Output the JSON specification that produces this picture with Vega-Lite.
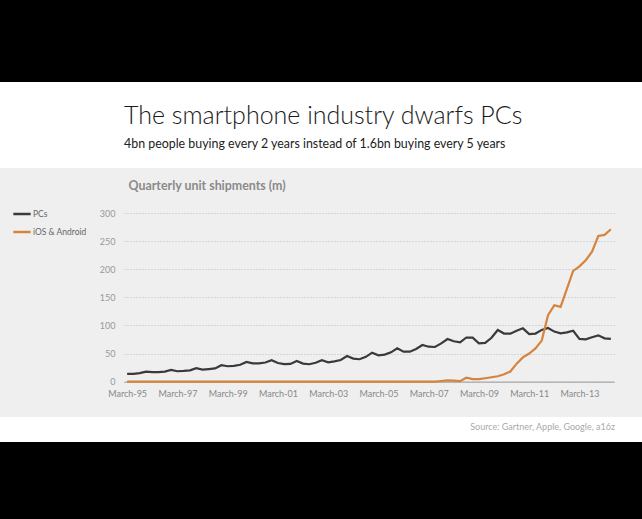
{
  "$schema": "https://vega.github.io/schema/vega-lite/v6.json",
  "background": "white",
  "padding": 0,
  "bounds": "flush",
  "spacing": 0,
  "config": {"view": {"stroke": null}, "font": "Lato"},
  "vconcat": [
    {
      "width": 642,
      "height": 82,
      "view": {"fill": "black", "stroke": null},
      "data": {"values": [{}]},
      "mark": {"type": "text", "text": ""},
      "title": {
        "text": "The smartphone industry dwarfs PCs",
        "subtitle": "4bn people buying every 2 years instead of 1.6bn buying every 5 years",
        "orient": "bottom",
        "anchor": "start",
        "frame": "group",
        "dx": 124,
        "offset": 22,
        "font": "Lato",
        "fontSize": 25,
        "fontWeight": 300,
        "color": "#1a1a1a",
        "subtitleFont": "Lato",
        "subtitleFontSize": 12.4,
        "subtitleColor": "#222",
        "subtitlePadding": 9
      }
    },
    {
      "width": 642,
      "height": 86,
      "data": {"values": [{}]},
      "mark": {"type": "text", "text": ""}
    },
    {
      "width": 642,
      "height": 249,
      "view": {"fill": "#efefef", "stroke": null},
      "title": {
        "text": "Source: Gartner, Apple, Google, a16z",
        "orient": "bottom",
        "anchor": "end",
        "frame": "group",
        "dx": -27,
        "offset": 6,
        "fontSize": 9,
        "fontWeight": "normal",
        "color": "#aaa"
      },
      "data": {
        "values": [
          {"q": "March-95", "s": "PCs", "v": 13.7},
          {"q": "June-95", "s": "PCs", "v": 13.7},
          {"q": "September-95", "s": "PCs", "v": 15},
          {"q": "December-95", "s": "PCs", "v": 17.8},
          {"q": "March-96", "s": "PCs", "v": 16.7},
          {"q": "June-96", "s": "PCs", "v": 17},
          {"q": "September-96", "s": "PCs", "v": 17.8},
          {"q": "December-96", "s": "PCs", "v": 20.8},
          {"q": "March-97", "s": "PCs", "v": 18.4},
          {"q": "June-97", "s": "PCs", "v": 19},
          {"q": "September-97", "s": "PCs", "v": 20},
          {"q": "December-97", "s": "PCs", "v": 23.8},
          {"q": "March-98", "s": "PCs", "v": 21.3},
          {"q": "June-98", "s": "PCs", "v": 22.3},
          {"q": "September-98", "s": "PCs", "v": 23.5},
          {"q": "December-98", "s": "PCs", "v": 29.1},
          {"q": "March-99", "s": "PCs", "v": 27.3},
          {"q": "June-99", "s": "PCs", "v": 28},
          {"q": "September-99", "s": "PCs", "v": 30},
          {"q": "December-99", "s": "PCs", "v": 35},
          {"q": "March-00", "s": "PCs", "v": 32.5},
          {"q": "June-00", "s": "PCs", "v": 32.6},
          {"q": "September-00", "s": "PCs", "v": 34},
          {"q": "December-00", "s": "PCs", "v": 38},
          {"q": "March-01", "s": "PCs", "v": 33},
          {"q": "June-01", "s": "PCs", "v": 31},
          {"q": "September-01", "s": "PCs", "v": 31.5},
          {"q": "December-01", "s": "PCs", "v": 36.7},
          {"q": "March-02", "s": "PCs", "v": 32},
          {"q": "June-02", "s": "PCs", "v": 30.9},
          {"q": "September-02", "s": "PCs", "v": 33.5},
          {"q": "December-02", "s": "PCs", "v": 38},
          {"q": "March-03", "s": "PCs", "v": 34.4},
          {"q": "June-03", "s": "PCs", "v": 36},
          {"q": "September-03", "s": "PCs", "v": 38.5},
          {"q": "December-03", "s": "PCs", "v": 45.6},
          {"q": "March-04", "s": "PCs", "v": 41},
          {"q": "June-04", "s": "PCs", "v": 39.8},
          {"q": "September-04", "s": "PCs", "v": 44},
          {"q": "December-04", "s": "PCs", "v": 51.5},
          {"q": "March-05", "s": "PCs", "v": 46.8},
          {"q": "June-05", "s": "PCs", "v": 48},
          {"q": "September-05", "s": "PCs", "v": 52},
          {"q": "December-05", "s": "PCs", "v": 59.3},
          {"q": "March-06", "s": "PCs", "v": 53.3},
          {"q": "June-06", "s": "PCs", "v": 53.3},
          {"q": "September-06", "s": "PCs", "v": 58},
          {"q": "December-06", "s": "PCs", "v": 65.2},
          {"q": "March-07", "s": "PCs", "v": 62.1},
          {"q": "June-07", "s": "PCs", "v": 61.6},
          {"q": "September-07", "s": "PCs", "v": 68},
          {"q": "December-07", "s": "PCs", "v": 75.8},
          {"q": "March-08", "s": "PCs", "v": 71.7},
          {"q": "June-08", "s": "PCs", "v": 69.9},
          {"q": "September-08", "s": "PCs", "v": 78.5},
          {"q": "December-08", "s": "PCs", "v": 78.3},
          {"q": "March-09", "s": "PCs", "v": 68.2},
          {"q": "June-09", "s": "PCs", "v": 68.8},
          {"q": "September-09", "s": "PCs", "v": 78},
          {"q": "December-09", "s": "PCs", "v": 91.8},
          {"q": "March-10", "s": "PCs", "v": 85.5},
          {"q": "June-10", "s": "PCs", "v": 85.3},
          {"q": "September-10", "s": "PCs", "v": 90.5},
          {"q": "December-10", "s": "PCs", "v": 94.8},
          {"q": "March-11", "s": "PCs", "v": 84.7},
          {"q": "June-11", "s": "PCs", "v": 85.5},
          {"q": "September-11", "s": "PCs", "v": 92},
          {"q": "December-11", "s": "PCs", "v": 95.5},
          {"q": "March-12", "s": "PCs", "v": 89},
          {"q": "June-12", "s": "PCs", "v": 85.9},
          {"q": "September-12", "s": "PCs", "v": 87.5},
          {"q": "December-12", "s": "PCs", "v": 90.5},
          {"q": "March-13", "s": "PCs", "v": 76},
          {"q": "June-13", "s": "PCs", "v": 75.2},
          {"q": "September-13", "s": "PCs", "v": 79},
          {"q": "December-13", "s": "PCs", "v": 82.3},
          {"q": "March-14", "s": "PCs", "v": 77},
          {"q": "June-14", "s": "PCs", "v": 76},
          {"q": "March-95", "s": "iOS & Android", "v": 0},
          {"q": "June-95", "s": "iOS & Android", "v": 0},
          {"q": "September-95", "s": "iOS & Android", "v": 0},
          {"q": "December-95", "s": "iOS & Android", "v": 0},
          {"q": "March-96", "s": "iOS & Android", "v": 0},
          {"q": "June-96", "s": "iOS & Android", "v": 0},
          {"q": "September-96", "s": "iOS & Android", "v": 0},
          {"q": "December-96", "s": "iOS & Android", "v": 0},
          {"q": "March-97", "s": "iOS & Android", "v": 0},
          {"q": "June-97", "s": "iOS & Android", "v": 0},
          {"q": "September-97", "s": "iOS & Android", "v": 0},
          {"q": "December-97", "s": "iOS & Android", "v": 0},
          {"q": "March-98", "s": "iOS & Android", "v": 0},
          {"q": "June-98", "s": "iOS & Android", "v": 0},
          {"q": "September-98", "s": "iOS & Android", "v": 0},
          {"q": "December-98", "s": "iOS & Android", "v": 0},
          {"q": "March-99", "s": "iOS & Android", "v": 0},
          {"q": "June-99", "s": "iOS & Android", "v": 0},
          {"q": "September-99", "s": "iOS & Android", "v": 0},
          {"q": "December-99", "s": "iOS & Android", "v": 0},
          {"q": "March-00", "s": "iOS & Android", "v": 0},
          {"q": "June-00", "s": "iOS & Android", "v": 0},
          {"q": "September-00", "s": "iOS & Android", "v": 0},
          {"q": "December-00", "s": "iOS & Android", "v": 0},
          {"q": "March-01", "s": "iOS & Android", "v": 0},
          {"q": "June-01", "s": "iOS & Android", "v": 0},
          {"q": "September-01", "s": "iOS & Android", "v": 0},
          {"q": "December-01", "s": "iOS & Android", "v": 0},
          {"q": "March-02", "s": "iOS & Android", "v": 0},
          {"q": "June-02", "s": "iOS & Android", "v": 0},
          {"q": "September-02", "s": "iOS & Android", "v": 0},
          {"q": "December-02", "s": "iOS & Android", "v": 0},
          {"q": "March-03", "s": "iOS & Android", "v": 0},
          {"q": "June-03", "s": "iOS & Android", "v": 0},
          {"q": "September-03", "s": "iOS & Android", "v": 0},
          {"q": "December-03", "s": "iOS & Android", "v": 0},
          {"q": "March-04", "s": "iOS & Android", "v": 0},
          {"q": "June-04", "s": "iOS & Android", "v": 0},
          {"q": "September-04", "s": "iOS & Android", "v": 0},
          {"q": "December-04", "s": "iOS & Android", "v": 0},
          {"q": "March-05", "s": "iOS & Android", "v": 0},
          {"q": "June-05", "s": "iOS & Android", "v": 0},
          {"q": "September-05", "s": "iOS & Android", "v": 0},
          {"q": "December-05", "s": "iOS & Android", "v": 0},
          {"q": "March-06", "s": "iOS & Android", "v": 0},
          {"q": "June-06", "s": "iOS & Android", "v": 0},
          {"q": "September-06", "s": "iOS & Android", "v": 0},
          {"q": "December-06", "s": "iOS & Android", "v": 0},
          {"q": "March-07", "s": "iOS & Android", "v": 0},
          {"q": "June-07", "s": "iOS & Android", "v": 0},
          {"q": "September-07", "s": "iOS & Android", "v": 1.1},
          {"q": "December-07", "s": "iOS & Android", "v": 2.3},
          {"q": "March-08", "s": "iOS & Android", "v": 1.7},
          {"q": "June-08", "s": "iOS & Android", "v": 0.7},
          {"q": "September-08", "s": "iOS & Android", "v": 6.9},
          {"q": "December-08", "s": "iOS & Android", "v": 4.5},
          {"q": "March-09", "s": "iOS & Android", "v": 4.5},
          {"q": "June-09", "s": "iOS & Android", "v": 6},
          {"q": "September-09", "s": "iOS & Android", "v": 7.7},
          {"q": "December-09", "s": "iOS & Android", "v": 9.5},
          {"q": "March-10", "s": "iOS & Android", "v": 13},
          {"q": "June-10", "s": "iOS & Android", "v": 18},
          {"q": "September-10", "s": "iOS & Android", "v": 32},
          {"q": "December-10", "s": "iOS & Android", "v": 43},
          {"q": "March-11", "s": "iOS & Android", "v": 50},
          {"q": "June-11", "s": "iOS & Android", "v": 59},
          {"q": "September-11", "s": "iOS & Android", "v": 73},
          {"q": "December-11", "s": "iOS & Android", "v": 118},
          {"q": "March-12", "s": "iOS & Android", "v": 136},
          {"q": "June-12", "s": "iOS & Android", "v": 133},
          {"q": "September-12", "s": "iOS & Android", "v": 165},
          {"q": "December-12", "s": "iOS & Android", "v": 197},
          {"q": "March-13", "s": "iOS & Android", "v": 205},
          {"q": "June-13", "s": "iOS & Android", "v": 216},
          {"q": "September-13", "s": "iOS & Android", "v": 231},
          {"q": "December-13", "s": "iOS & Android", "v": 259},
          {"q": "March-14", "s": "iOS & Android", "v": 261},
          {"q": "June-14", "s": "iOS & Android", "v": 271}
        ]
      },
      "mark": {"type": "line", "strokeWidth": 2.2},
      "encoding": {
        "x": {
          "field": "q",
          "type": "ordinal",
          "sort": null,
          "scale": {"type": "point", "range": [124, 614], "padding": 0.5},
          "axis": {
            "title": null,
            "values": ["March-95", "March-97", "March-99", "March-01", "March-03", "March-05", "March-07", "March-09", "March-11", "March-13"],
            "labelAngle": 0,
            "labelFontSize": 9,
            "labelColor": "#888",
            "labelPadding": 8,
            "ticks": false,
            "grid": false,
            "domainColor": "#999",
            "domainWidth": 1,
            "offset": -35.4
          }
        },
        "y": {
          "field": "v",
          "type": "quantitative",
          "scale": {"domain": [0, 300], "range": [213.6, 45], "nice": false},
          "axis": {
            "title": "Quarterly unit shipments (m)",
            "titleAngle": 0,
            "titleX": 10,
            "titleY": 17,
            "titleAlign": "left",
            "titleBaseline": "middle",
            "titleFontSize": 12.4,
            "titleFontWeight": "bold",
            "titleColor": "#8a8a8a",
            "values": [0, 50, 100, 150, 200, 250, 300],
            "labelFontSize": 9,
            "labelColor": "#999",
            "labelPadding": 3,
            "domain": false,
            "ticks": false,
            "grid": true,
            "gridColor": "#bbb",
            "gridDash": [1, 2],
            "offset": -118
          }
        },
        "color": {
          "field": "s",
          "type": "nominal",
          "scale": {"domain": ["PCs", "iOS & Android"], "range": ["#3a3a3a", "#d5843d"]},
          "legend": {
            "title": null,
            "orient": "none",
            "legendX": 12,
            "legendY": 204,
            "symbolType": "stroke",
            "symbolSize": 300,
            "symbolStrokeWidth": 2.5,
            "labelFontSize": 8.5,
            "labelColor": "#666",
            "labelOffset": 1,
            "rowPadding": 3,
            "padding": 0
          }
        }
      }
    },
    {
      "width": 642,
      "height": 25,
      "data": {"values": [{}]},
      "mark": {"type": "text", "text": ""}
    },
    {
      "width": 642,
      "height": 77,
      "view": {"fill": "black", "stroke": null},
      "data": {"values": [{}]},
      "mark": {"type": "text", "text": ""}
    }
  ]
}
